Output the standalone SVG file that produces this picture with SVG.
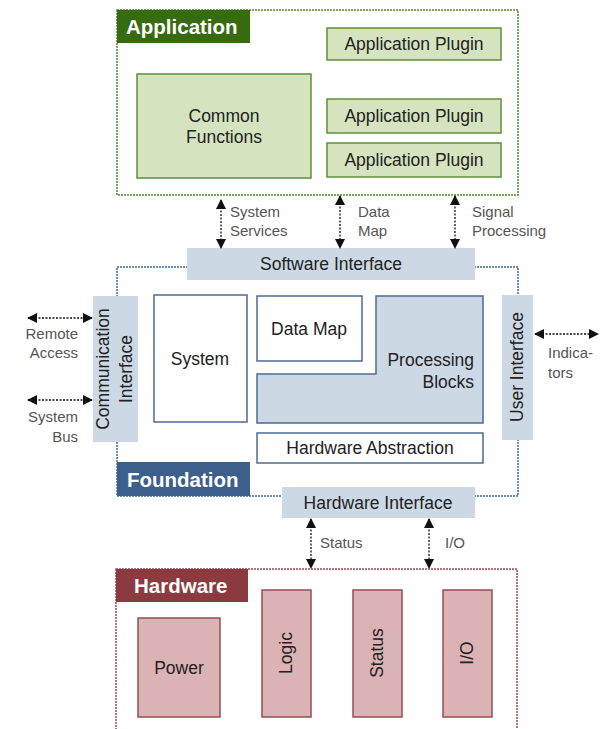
<svg xmlns="http://www.w3.org/2000/svg" width="601" height="729" viewBox="0 0 601 729">
<defs>
<marker id="ah" viewBox="0 0 10 10" refX="9" refY="5" markerWidth="10" markerHeight="10" markerUnits="userSpaceOnUse" orient="auto-start-reverse">
<path d="M0,0 L10,5 L0,10 z" fill="#111"/>
</marker>
<style>
text{font-family:"Liberation Sans",Arial,sans-serif;}
.t{font-size:17.5px;fill:#222;text-anchor:middle;}
.title{font-size:20.5px;font-weight:bold;fill:#fff;}
.lbl{font-size:15px;fill:#555;}
.green{fill:#d5e4be;stroke:#5f8f36;stroke-width:1.5;}
.blue{fill:#cdd8e5;stroke:none;}
.bw{fill:#fff;stroke:#4c6a94;stroke-width:1.5;}
.bb{fill:#cdd8e5;stroke:#4c6a94;stroke-width:1.5;}
.red{fill:#dbb3b5;stroke:#944e53;stroke-width:1.5;}
.conn{stroke:#111;stroke-width:1.3;stroke-dasharray:2 1.5;fill:none;marker-start:url(#ah);marker-end:url(#ah);}
</style>
</defs>
<rect width="601" height="729" fill="#fff"/>

<g id="application">
<rect x="117" y="10" width="401" height="185" fill="#fff" stroke="#4f8a2a" stroke-width="1.5" stroke-dasharray="2 1"/>
<rect x="117" y="10" width="133" height="33" fill="#376b10"/>
<text class="title" x="126" y="34">Application</text>
</g>
<g id="plugin1"><rect class="green" x="327" y="28" width="174" height="32"/><text class="t" x="414" y="50">Application Plugin</text></g>
<g id="plugin2"><rect class="green" x="327" y="99" width="174" height="34"/><text class="t" x="414" y="122">Application Plugin</text></g>
<g id="plugin3"><rect class="green" x="327" y="143" width="174" height="34"/><text class="t" x="414" y="166">Application Plugin</text></g>
<g id="common"><rect class="green" x="137" y="74" width="174" height="104"/><text class="t" x="224" y="122">Common</text><text class="t" x="224" y="143">Functions</text></g>

<g id="foundation">
<rect x="117" y="267" width="401" height="229" fill="#fff" stroke="#3a6aa2" stroke-width="1.5" stroke-dasharray="2 1"/>
<rect x="117" y="462" width="133" height="34" fill="#3d5f8b"/>
<text class="title" x="127" y="487">Foundation</text>
</g>
<g id="software-interface"><rect class="blue" x="187" y="248" width="288" height="32"/><text class="t" x="331" y="270">Software Interface</text></g>
<g id="comm-interface"><rect class="blue" x="93" y="296" width="45" height="146"/>
<text class="t" transform="translate(109,369) rotate(-90)">Communication</text>
<text class="t" transform="translate(132,369) rotate(-90)">Interface</text></g>
<g id="system"><rect class="bw" x="154" y="295" width="93" height="127"/><text class="t" x="200" y="365">System</text></g>
<g id="datamap"><rect class="bw" x="257" y="296" width="105" height="65"/><text class="t" x="309" y="335">Data Map</text></g>
<g id="processing"><path class="bb" d="M376,296 L483,296 L483,423 L257,423 L257,374 L376,374 Z"/><text class="t" x="474" y="366" style="text-anchor:end">Processing</text><text class="t" x="474" y="388" style="text-anchor:end">Blocks</text></g>
<g id="hw-abstraction"><rect class="bw" x="257" y="433" width="226" height="30"/><text class="t" x="370" y="454">Hardware Abstraction</text></g>
<g id="user-interface"><rect class="blue" x="502" y="295" width="31" height="145"/><text class="t" transform="translate(523,367) rotate(-90)">User Interface</text></g>
<g id="hw-interface"><rect class="blue" x="282" y="487" width="193" height="31"/><text class="t" x="378" y="509">Hardware Interface</text></g>

<g id="hardware">
<rect x="116" y="569" width="401" height="170" fill="#fff" stroke="#9a4a50" stroke-width="1.5" stroke-dasharray="2 1"/>
<rect x="116" y="569" width="132" height="33" fill="#8b3b40"/>
<text class="title" x="134" y="593">Hardware</text>
</g>
<g id="power"><rect class="red" x="138" y="618" width="82" height="99"/><text class="t" x="179" y="674">Power</text></g>
<g id="logic"><rect class="red" x="262" y="590" width="49" height="127"/><text class="t" transform="translate(292,653) rotate(-90)">Logic</text></g>
<g id="status"><rect class="red" x="353" y="590" width="49" height="127"/><text class="t" transform="translate(383,653) rotate(-90)">Status</text></g>
<g id="io"><rect class="red" x="443" y="590" width="49" height="127"/><text class="t" transform="translate(473,653) rotate(-90)">I/O</text></g>

<g id="connectors">
<line class="conn" x1="221" y1="200" x2="221" y2="248"/>
<line class="conn" x1="340" y1="196" x2="340" y2="248"/>
<line class="conn" x1="455" y1="196" x2="455" y2="248"/>
<line class="conn" x1="28" y1="318" x2="92" y2="318"/>
<line class="conn" x1="28" y1="400" x2="92" y2="400"/>
<line class="conn" x1="535" y1="334" x2="598" y2="334"/>
<line class="conn" x1="311" y1="519" x2="311" y2="568"/>
<line class="conn" x1="429" y1="519" x2="429" y2="568"/>
</g>
<g id="labels">
<text class="lbl" x="230" y="217">System</text><text class="lbl" x="230" y="236">Services</text>
<text class="lbl" x="358" y="217">Data</text><text class="lbl" x="358" y="236">Map</text>
<text class="lbl" x="472" y="217">Signal</text><text class="lbl" x="472" y="236">Processing</text>
<text class="lbl" x="78" y="339" text-anchor="end">Remote</text><text class="lbl" x="78" y="358" text-anchor="end">Access</text>
<text class="lbl" x="78" y="422" text-anchor="end">System</text><text class="lbl" x="78" y="442" text-anchor="end">Bus</text>
<text class="lbl" x="548" y="358">Indica-</text><text class="lbl" x="548" y="378">tors</text>
<text class="lbl" x="320" y="548">Status</text>
<text class="lbl" x="445" y="548">I/O</text>
</g>
</svg>
